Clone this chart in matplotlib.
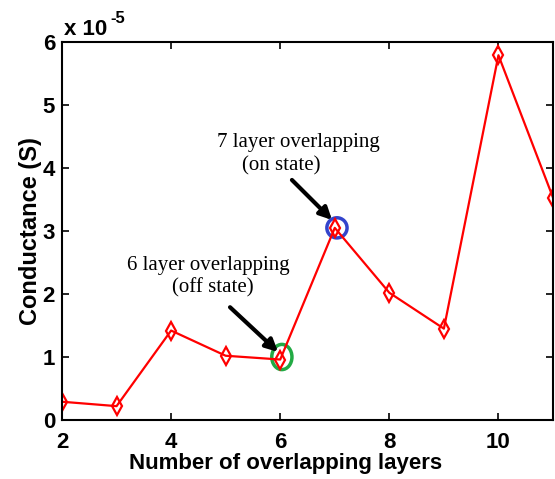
import matplotlib
matplotlib.use("Agg")
import matplotlib.pyplot as plt
from matplotlib.ticker import FuncFormatter
from matplotlib.patches import Ellipse

layers = [2, 3, 4, 5, 6, 7, 8, 9, 10, 11]
conductance = [0.29e-5, 0.22e-5, 1.42e-5, 1.02e-5, 0.96e-5, 3.05e-5, 2.02e-5, 1.45e-5, 5.79e-5, 3.53e-5]
xticks = [2, 4, 6, 8, 10]
yticks = [0, 1e-5, 2e-5, 3e-5, 4e-5, 5e-5, 6e-5]

fig = plt.figure(figsize=(5.55, 4.79), dpi=100)
ax = fig.add_axes([62/555, 59/479, 491/555, 378/479])

ax.plot(layers, conductance, color='red', lw=1.6, marker='d', markersize=9,
        markerfacecolor='none', markeredgecolor='red', markeredgewidth=1.6)

ax.set_xlim(2, 11)
ax.set_ylim(0, 6e-5)
ax.set_xticks(xticks)
ax.set_yticks(yticks)
ax.yaxis.set_major_formatter(FuncFormatter(lambda v, p: f"{v*1e5:.0f}"))
ax.tick_params(direction='in', top=True, right=True, length=5, width=1.2,
               labelsize=16)
ax.tick_params(axis='x', pad=9)
ax.tick_params(axis='y', pad=5)
for lab in ax.get_xticklabels() + ax.get_yticklabels():
    lab.set_fontweight('bold')
    lab.set_family('Liberation Sans')
for s in ax.spines.values():
    s.set_linewidth(1.5)

ax.set_xlabel('Number of overlapping layers', fontsize=16, fontweight='bold',
              family='Liberation Sans')
ax.xaxis.set_label_coords((286 - 62) / 491, (420 - 453) / 378)
ax.set_ylabel('Conductance (S)', fontsize=17, fontweight='bold',
              family='Liberation Sans')
ax.yaxis.set_label_coords((42 - 62) / 491, 0.5)

fig.text(64/555, 1 - 35/479, 'x 10', fontsize=16, fontweight='bold',
         family='Liberation Sans', va='baseline', ha='left')
fig.text(110/555, 1 - 23/479, '-5', fontsize=12, fontweight='bold',
         family='Liberation Sans', va='baseline', ha='left')

# circles around highlighted points
ax.add_patch(Ellipse((7.04, conductance[5]), 0.37, 0.32e-5, fill=False,
                     edgecolor='#3344cc', lw=2.5))
ax.add_patch(Ellipse((6.03, 1.0e-5), 0.37, 0.40e-5, fill=False,
                     edgecolor='#22aa44', lw=2.5))

serif = dict(fontsize=15, family='Liberation Serif', ha='center', va='center')
ax.text(6.325, 4.41e-5, '7 layer overlapping', **serif)
ax.text(6.01, 4.03e-5, '(on state)', **serif)
ax.text(4.676, 2.46e-5, '6 layer overlapping', **serif)
ax.text(4.77, 2.095e-5, '(off state)', **serif)

arrow = dict(arrowstyle='-|>', color='black', lw=3, mutation_scale=18,
             shrinkA=0, shrinkB=0)
ax.annotate('', xy=(6.95, 3.175e-5), xytext=(6.215, 3.81e-5), arrowprops=arrow)
ax.annotate('', xy=(5.96, 1.08e-5), xytext=(5.08, 1.79e-5), arrowprops=arrow)

fig.savefig('out.png', dpi=100)
